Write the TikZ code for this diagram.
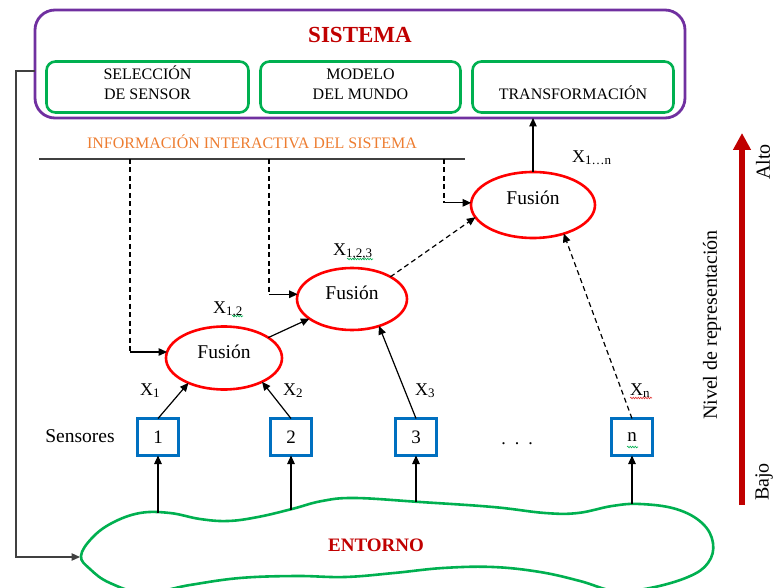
\documentclass[tikz,border=0pt]{standalone}
\usepackage{fontspec}
\setmainfont{Liberation Serif}
\usetikzlibrary{arrows.meta,shapes.geometric,decorations.pathmorphing}
\definecolor{sysPurple}{HTML}{7030A0}
\definecolor{modGreen}{HTML}{00B050}
\definecolor{fusRed}{HTML}{FF0000}
\definecolor{senBlue}{HTML}{0070C0}
\definecolor{titleRed}{HTML}{C00000}
\definecolor{infoOrange}{HTML}{ED7D31}
\definecolor{lineGray}{HTML}{404040}
\definecolor{spellRed}{HTML}{E03030}
\newcommand{\xsub}[1]{\raisebox{-2pt}{\fontsize{13}{13}\selectfont #1}}
\begin{document}
\begin{tikzpicture}[x=1pt,y=-1pt,
  every node/.style={inner sep=0pt,outer sep=0pt},
  sysbox/.style={draw=sysPurple,line width=2.8pt,rounded corners=20pt,minimum width=650pt,minimum height=108pt},
  modbox/.style={draw=modGreen,line width=2.6pt,rounded corners=9pt,minimum height=51pt},
  lbl/.style={anchor=base,font=\fontsize{16}{19}\selectfont},
  fusion/.style={ellipse,draw=fusRed,line width=2.6pt,font=\fontsize{19.5}{22}\selectfont,text height=6pt,text depth=6pt},
  sensor/.style={draw=senBlue,line width=3pt,minimum width=41pt,minimum height=37pt,font=\fontsize{19}{22}\selectfont},
  xlab/.style={anchor=base west,font=\fontsize{18}{20}\selectfont},
  arr/.style={line width=1.2pt,-{Triangle[length=8.5pt,width=7.5pt]}},
  dline/.style={line width=1.2pt,dash pattern=on 5pt off 3.5pt},
  wavy/.style={decorate,decoration={snake,amplitude=0.8pt,segment length=2.5pt},line width=0.6pt}
]
\useasboundingbox (0,0) rectangle (774,588);

% system block with its three modules
\node[sysbox] (sys) at (360,64) {};
\node[anchor=base,font=\fontsize{23}{26}\selectfont\bfseries,text=titleRed] (systitle) at (360,43) {SISTEMA};
\node[modbox,minimum width=202pt] (sel) at (147.5,87) {};
\node[modbox,minimum width=200pt] (mod) at (360.5,87) {};
\node[modbox,minimum width=201pt] (tra) at (573,87) {};
\node[lbl] (selA) at (147.5,80) {SELECCIÓN};
\node[lbl] (selB) at (147.5,100) {DE SENSOR};
\node[lbl] (modA) at (360.5,80) {MODELO};
\node[lbl] (modB) at (360.5,100) {DEL MUNDO};
\node[lbl] (traB) at (573,100) {TRANSFORMACIÓN};

% interactive information bus
\node[lbl,text=infoOrange] (info) at (252,149) {INFORMACIÓN INTERACTIVA DEL SISTEMA};
\coordinate (infoL) at (39,159);
\coordinate (infoR) at (465,159);
\draw[lineGray,line width=1.2pt] (infoL) -- (infoR);
\coordinate (d1) at (130,159);
\coordinate (d2) at (269,159);
\coordinate (d3) at (444,159);

% fusion nodes
\node[fusion,minimum width=116pt,minimum height=63pt] (f1) at (224,358) {Fusión};
\node[fusion,minimum width=110pt,minimum height=62pt] (f2) at (352,299) {Fusión};
\node[fusion,minimum width=124pt,minimum height=66pt] (f3) at (533,205) {Fusión};

% sensors
\node[anchor=base,font=\fontsize{19.5}{22}\selectfont] (sensores) at (80,442) {Sensores};
\node[sensor] (s1) at (158,437) {1};
\node[sensor] (s2) at (291,437) {2};
\node[sensor] (s3) at (416,437) {3};
\node[sensor] (sn) at (632,437) {n};
\node[anchor=base,font=\fontsize{18}{20}\selectfont] (dots) at (517,444) {.\ \ .\ \ .};

% signal labels
\node[xlab] (x1) at (140,395) {X\xsub{1}};
\node[xlab] (x2) at (283,395) {X\xsub{2}};
\node[xlab] (x3) at (415,395) {X\xsub{3}};
\node[xlab] (xn) at (630,395) {X\xsub{n}};
\node[xlab] (x12) at (213,313) {X\xsub{1,2}};
\node[xlab] (x123) at (333,255) {X\xsub{1,2,3}};
\node[xlab] (x1n) at (572,163) {X\xsub{1\ldots n}};

% wavy proofing marks
\draw[wavy,draw=modGreen] (232,316) -- (243,316);
\draw[wavy,draw=modGreen] (347,259) -- (373,259);
\draw[wavy,draw=spellRed] (630,398) -- (652,398);
\draw[wavy,draw=modGreen] (627,447) -- (638,447);

% sensor outputs to the fusion nodes
\draw[arr] (s1.north) -- (f1.215);
\draw[arr] (s2.north) -- (f1.-32);
\draw[arr] (f1) -- (f2);
\draw[arr] (s3.north) -- (f2.-45);
\draw[arr,dash pattern=on 5pt off 3.5pt] (f2.30) -- (f3.192);
\draw[arr,dash pattern=on 5pt off 3.5pt] (sn.north) -- (f3.-43);
\draw[arr] (f3.north) -- (f3.north |- sys.south);

% feedback from the information bus
\draw[dline] (d1) -- (d1 |- f1.174);
\draw[arr] (d1 |- f1.174) -- (f1.174);
\draw[dline] (d2) -- (d2 |- f2.175);
\draw[arr] (d2 |- f2.175) -- (f2.175);
\draw[dline] (d3) -- (d3 |- f3.178);
\draw[arr] (d3 |- f3.178) -- (f3.178);

% environment
\draw[modGreen,line width=2.6pt] plot[smooth cycle,tension=0.65] coordinates {
 (81,556) (92,538) (112,523) (140,513) (170,513) (200,519) (228,521) (258,517)
 (292,509) (322,501) (355,498) (420,502) (493,507) (545,513) (578,513) (612,506)
 (640,504) (676,509) (702,523) (713,543) (708,563) (688,577) (650,588) (615,591)
 (580,581) (540,572) (493,567) (443,568) (394,573) (345,577) (296,576) (240,578)
 (190,585) (145,593) (110,583) (90,569)};
\node[anchor=base,font=\fontsize{19}{22}\selectfont\bfseries,text=titleRed] (env) at (376,551) {ENTORNO};
\coordinate (e1) at (158,513);
\coordinate (e2) at (291,510);
\coordinate (e3) at (416,502);
\coordinate (en) at (632,504);
\draw[arr] (e1) -- (s1.south);
\draw[arr] (e2) -- (s2.south);
\draw[arr] (e3) -- (s3.south);
\draw[arr] (en) -- (sn.south);

% loop from the system back to the environment
\coordinate (fbA) at (35,71);
\coordinate (fbB) at (16,71);
\coordinate (envW) at (80,557);
\draw[lineGray,line width=1.2pt,-{Triangle[length=8.5pt,width=7.5pt]}] (fbA) -- (fbB) |- (envW);

% representation level scale
\coordinate (lvB) at (742,505);
\coordinate (lvA) at (742,133);
\draw[titleRed,line width=6pt,-{Triangle[length=17pt,width=17pt]}] (lvB) -- (lvA);
\node[rotate=90,font=\fontsize{20}{22}\selectfont] (alto) at (763,162) {Alto};
\node[rotate=90,font=\fontsize{20}{22}\selectfont] (bajo) at (764,482) {Bajo};
\node[rotate=90,font=\fontsize{20}{22}\selectfont] (nivel) at (712,325) {Nivel de representación};
\end{tikzpicture}
\end{document}
